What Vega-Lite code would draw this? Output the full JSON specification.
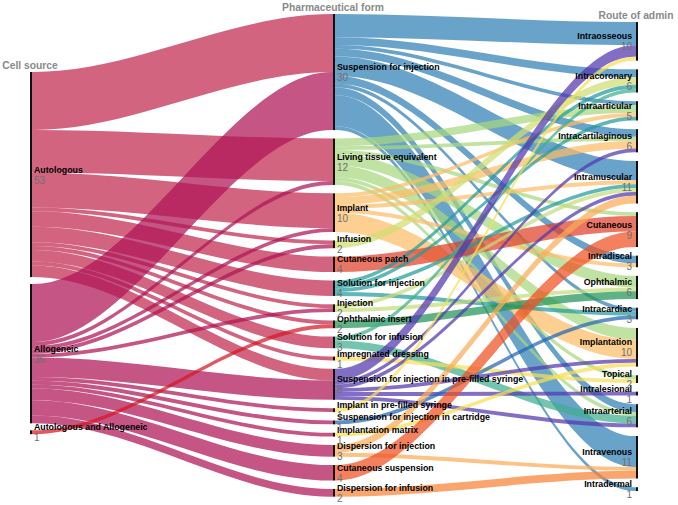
{
  "$schema": "https://vega.github.io/schema/vega-lite/v6.json",
  "width": 678,
  "height": 505,
  "padding": 0,
  "autosize": {"type": "none"},
  "config": {"view": {"stroke": null}, "font": "Liberation Sans"},
  "datasets": {
    "nodes": [
      {"name": "Autologous", "col": 0, "ord": 0, "value": 53},
      {"name": "Allogeneic", "col": 0, "ord": 1, "value": 36},
      {"name": "Autologous and Allogeneic", "col": 0, "ord": 2, "value": 1},
      {"name": "Suspension for injection", "col": 1, "ord": 0, "value": 30},
      {"name": "Living tissue equivalent", "col": 1, "ord": 1, "value": 12},
      {"name": "Implant", "col": 1, "ord": 2, "value": 10},
      {"name": "Infusion", "col": 1, "ord": 3, "value": 2},
      {"name": "Cutaneous patch", "col": 1, "ord": 4, "value": 4},
      {"name": "Solution for injection", "col": 1, "ord": 5, "value": 4},
      {"name": "Injection", "col": 1, "ord": 6, "value": 2},
      {"name": "Ophthalmic insert", "col": 1, "ord": 7, "value": 2},
      {"name": "Solution for infusion", "col": 1, "ord": 8, "value": 3},
      {"name": "Impregnated dressing", "col": 1, "ord": 9, "value": 1},
      {"name": "Suspension for injection in pre-filled syringe", "col": 1, "ord": 10, "value": 8},
      {"name": "Implant in pre-filled syringe", "col": 1, "ord": 11, "value": 1},
      {"name": "Suspension for injection in cartridge", "col": 1, "ord": 12, "value": 1},
      {"name": "Implantation matrix", "col": 1, "ord": 13, "value": 1},
      {"name": "Dispersion for injection", "col": 1, "ord": 14, "value": 3},
      {"name": "Cutaneous suspension", "col": 1, "ord": 15, "value": 4},
      {"name": "Dispersion for infusion", "col": 1, "ord": 16, "value": 2},
      {"name": "Intraosseous", "col": 2, "ord": 0, "value": 10},
      {"name": "Intracoronary", "col": 2, "ord": 1, "value": 6},
      {"name": "Intraarticular", "col": 2, "ord": 2, "value": 5},
      {"name": "Intracartilaginous", "col": 2, "ord": 3, "value": 6},
      {"name": "Intramuscular", "col": 2, "ord": 4, "value": 11},
      {"name": "Cutaneous", "col": 2, "ord": 5, "value": 9},
      {"name": "Intradiscal", "col": 2, "ord": 6, "value": 3},
      {"name": "Ophthalmic", "col": 2, "ord": 7, "value": 6},
      {"name": "Intracardiac", "col": 2, "ord": 8, "value": 3},
      {"name": "Implantation", "col": 2, "ord": 9, "value": 10},
      {"name": "Topical", "col": 2, "ord": 10, "value": 2},
      {"name": "Intralesional", "col": 2, "ord": 11, "value": 1},
      {"name": "Intraarterial", "col": 2, "ord": 12, "value": 6},
      {"name": "Intravenous", "col": 2, "ord": 13, "value": 11},
      {"name": "Intradermal", "col": 2, "ord": 14, "value": 1}
    ],
    "links": [
      {"src": "Autologous", "tgt": "Suspension for injection", "v": 15},
      {"src": "Autologous", "tgt": "Living tissue equivalent", "v": 11},
      {"src": "Autologous", "tgt": "Implant", "v": 9},
      {"src": "Autologous", "tgt": "Infusion", "v": 1},
      {"src": "Autologous", "tgt": "Cutaneous patch", "v": 4},
      {"src": "Autologous", "tgt": "Solution for injection", "v": 4},
      {"src": "Autologous", "tgt": "Injection", "v": 1},
      {"src": "Autologous", "tgt": "Ophthalmic insert", "v": 1},
      {"src": "Autologous", "tgt": "Solution for infusion", "v": 3},
      {"src": "Autologous", "tgt": "Impregnated dressing", "v": 1},
      {"src": "Autologous", "tgt": "Suspension for injection in pre-filled syringe", "v": 3},
      {"src": "Allogeneic", "tgt": "Suspension for injection", "v": 15},
      {"src": "Allogeneic", "tgt": "Living tissue equivalent", "v": 1},
      {"src": "Allogeneic", "tgt": "Implant", "v": 1},
      {"src": "Allogeneic", "tgt": "Infusion", "v": 1},
      {"src": "Allogeneic", "tgt": "Injection", "v": 1},
      {"src": "Allogeneic", "tgt": "Suspension for injection in pre-filled syringe", "v": 5},
      {"src": "Allogeneic", "tgt": "Implant in pre-filled syringe", "v": 1},
      {"src": "Allogeneic", "tgt": "Suspension for injection in cartridge", "v": 1},
      {"src": "Allogeneic", "tgt": "Implantation matrix", "v": 1},
      {"src": "Allogeneic", "tgt": "Dispersion for injection", "v": 3},
      {"src": "Allogeneic", "tgt": "Cutaneous suspension", "v": 4},
      {"src": "Allogeneic", "tgt": "Dispersion for infusion", "v": 2},
      {"src": "Autologous and Allogeneic", "tgt": "Ophthalmic insert", "v": 1},
      {"src": "Suspension for injection", "tgt": "Intraosseous", "v": 6},
      {"src": "Suspension for injection", "tgt": "Intracoronary", "v": 2},
      {"src": "Suspension for injection", "tgt": "Intraarticular", "v": 1},
      {"src": "Suspension for injection", "tgt": "Intracartilaginous", "v": 2},
      {"src": "Suspension for injection", "tgt": "Intramuscular", "v": 5},
      {"src": "Suspension for injection", "tgt": "Intradiscal", "v": 2},
      {"src": "Suspension for injection", "tgt": "Intracardiac", "v": 1},
      {"src": "Suspension for injection", "tgt": "Intraarterial", "v": 2},
      {"src": "Suspension for injection", "tgt": "Intravenous", "v": 8},
      {"src": "Suspension for injection", "tgt": "Intradermal", "v": 1},
      {"src": "Living tissue equivalent", "tgt": "Intraarticular", "v": 2},
      {"src": "Living tissue equivalent", "tgt": "Intracartilaginous", "v": 1},
      {"src": "Living tissue equivalent", "tgt": "Cutaneous", "v": 1},
      {"src": "Living tissue equivalent", "tgt": "Ophthalmic", "v": 3},
      {"src": "Living tissue equivalent", "tgt": "Implantation", "v": 3},
      {"src": "Living tissue equivalent", "tgt": "Topical", "v": 1},
      {"src": "Living tissue equivalent", "tgt": "Intraarterial", "v": 1},
      {"src": "Implant", "tgt": "Intraarticular", "v": 1},
      {"src": "Implant", "tgt": "Intracartilaginous", "v": 2},
      {"src": "Implant", "tgt": "Intramuscular", "v": 1},
      {"src": "Implant", "tgt": "Intradiscal", "v": 1},
      {"src": "Implant", "tgt": "Implantation", "v": 5},
      {"src": "Infusion", "tgt": "Intracoronary", "v": 2},
      {"src": "Cutaneous patch", "tgt": "Cutaneous", "v": 4},
      {"src": "Solution for injection", "tgt": "Intracoronary", "v": 1},
      {"src": "Solution for injection", "tgt": "Intraarticular", "v": 1},
      {"src": "Solution for injection", "tgt": "Intramuscular", "v": 1},
      {"src": "Solution for injection", "tgt": "Intracardiac", "v": 1},
      {"src": "Injection", "tgt": "Intramuscular", "v": 1},
      {"src": "Injection", "tgt": "Ophthalmic", "v": 1},
      {"src": "Ophthalmic insert", "tgt": "Ophthalmic", "v": 2},
      {"src": "Solution for infusion", "tgt": "Intracoronary", "v": 1},
      {"src": "Solution for infusion", "tgt": "Intraarterial", "v": 2},
      {"src": "Impregnated dressing", "tgt": "Topical", "v": 1},
      {"src": "Suspension for injection in pre-filled syringe", "tgt": "Intraosseous", "v": 3},
      {"src": "Suspension for injection in pre-filled syringe", "tgt": "Intracartilaginous", "v": 1},
      {"src": "Suspension for injection in pre-filled syringe", "tgt": "Intramuscular", "v": 1},
      {"src": "Suspension for injection in pre-filled syringe", "tgt": "Implantation", "v": 1},
      {"src": "Suspension for injection in pre-filled syringe", "tgt": "Intralesional", "v": 1},
      {"src": "Suspension for injection in pre-filled syringe", "tgt": "Intraarterial", "v": 1},
      {"src": "Implant in pre-filled syringe", "tgt": "Intraosseous", "v": 1},
      {"src": "Suspension for injection in cartridge", "tgt": "Intracardiac", "v": 1},
      {"src": "Implantation matrix", "tgt": "Implantation", "v": 1},
      {"src": "Dispersion for injection", "tgt": "Intramuscular", "v": 2},
      {"src": "Dispersion for injection", "tgt": "Intravenous", "v": 1},
      {"src": "Cutaneous suspension", "tgt": "Cutaneous", "v": 4},
      {"src": "Dispersion for infusion", "tgt": "Intravenous", "v": 2}
    ],
    "columns": [
      {"col": 0, "title": "Cell source"},
      {"col": 1, "title": "Pharmaceutical form"},
      {"col": 2, "title": "Route of admin"}
    ]
  },
  "layer": [
    {
      "data": {"name": "links"},
      "transform": [
        {"lookup": "src", "from": {"data": {"name": "nodes"}, "key": "name", "fields": ["ord", "col"]}, "as": ["so", "sc"]},
        {"lookup": "tgt", "from": {"data": {"name": "nodes"}, "key": "name", "fields": ["ord"]}, "as": ["to"]},
        {"window": [{"op": "sum", "field": "v", "as": "cs"}], "groupby": ["sc"], "sort": [{"field": "so"}, {"field": "to"}], "frame": [null, 0]},
        {"window": [{"op": "sum", "field": "v", "as": "ct"}], "groupby": ["sc"], "sort": [{"field": "to"}, {"field": "so"}], "frame": [null, 0]},
        {"calculate": "(datum.sc == 0 ? 18.6 : 3.62) + datum.cs + datum.so * (datum.sc == 0 ? 1.8 : 2.17)", "as": "sb"},
        {"calculate": "(datum.sc == 0 ? 3.62 : 5.68) + datum.ct + datum.to * (datum.sc == 0 ? 2.17 : 2.23)", "as": "tb"},
        {"calculate": "[0, 1, 2, 3]", "as": "k"},
        {"flatten": ["k"]},
        {"calculate": "datum.k == 0 ? datum.sc + 0.0066 : datum.k == 1 ? datum.sc + 0.012 : datum.k == 2 ? datum.sc + 0.994 : datum.sc + 1", "as": "x"},
        {"calculate": "datum.k < 2 ? datum.sb : datum.tb", "as": "yb"},
        {"calculate": "datum.yb - datum.v", "as": "yt"},
        {"calculate": "datum.src + ' > ' + datum.tgt", "as": "id"}
      ],
      "mark": {"type": "area", "interpolate": "monotone", "opacity": 0.72},
      "encoding": {
        "x": {"field": "x", "type": "quantitative", "scale": {"domain": [-0.099, 2.1386]}, "axis": null},
        "y": {"field": "yt", "type": "quantitative", "stack": null, "scale": {"domain": [0, 130.5], "reverse": true}, "axis": null},
        "y2": {"field": "yb"},
        "detail": {"field": "id"},
        "color": {
          "field": "src",
          "type": "nominal",
          "legend": null,
          "scale": {
            "domain": ["Autologous", "Allogeneic", "Autologous and Allogeneic", "Suspension for injection", "Living tissue equivalent", "Implant", "Infusion", "Cutaneous patch", "Solution for injection", "Injection", "Ophthalmic insert", "Solution for infusion", "Impregnated dressing", "Suspension for injection in pre-filled syringe", "Implant in pre-filled syringe", "Suspension for injection in cartridge", "Implantation matrix", "Dispersion for injection", "Cutaneous suspension", "Dispersion for infusion"],
            "range": ["#c0284f", "#ad1455", "#d71623", "#3080b6", "#a8d780", "#fcbc66", "#d0de73", "#e0402a", "#239b9b", "#c5dd7a", "#239458", "#3eaf8e", "#f8de58", "#5237af", "#f8de58", "#2266b0", "#f8de58", "#fbac58", "#ee5121", "#f88236"]
          }
        }
      }
    },
    {
      "data": {"name": "nodes"},
      "transform": [
        {"window": [{"op": "sum", "field": "value", "as": "cum"}], "groupby": ["col"], "sort": [{"field": "ord"}], "frame": [null, 0]},
        {"calculate": "(datum.col == 0 ? 18.6 : datum.col == 1 ? 3.62 : 5.68) + datum.cum - datum.value + datum.ord * (datum.col == 0 ? 1.8 : datum.col == 1 ? 2.17 : 2.23)", "as": "top"},
        {"calculate": "datum.top + datum.value", "as": "bot"},
        {"calculate": "datum.col + 0.0066", "as": "xr"}
      ],
      "mark": {"type": "rect", "color": "#111"},
      "encoding": {
        "x": {"field": "col", "type": "quantitative", "scale": {"domain": [-0.099, 2.1386]}, "axis": null},
        "x2": {"field": "xr"},
        "y": {"field": "top", "type": "quantitative", "scale": {"domain": [0, 130.5], "reverse": true}, "axis": null},
        "y2": {"field": "bot"}
      }
    },
    {
      "data": {"name": "nodes"},
      "transform": [
        {"window": [{"op": "sum", "field": "value", "as": "cum"}], "groupby": ["col"], "sort": [{"field": "ord"}], "frame": [null, 0]},
        {"calculate": "(datum.col == 0 ? 18.6 : datum.col == 1 ? 3.62 : 5.68) + datum.cum - datum.value / 2 + datum.ord * (datum.col == 0 ? 1.8 : datum.col == 1 ? 2.17 : 2.23)", "as": "mid"},
        {"calculate": "datum.col == 2 ? datum.col - 0.013 : datum.col + 0.013", "as": "lx"}
      ],
      "layer": [
        {
          "transform": [{"filter": "datum.col < 2"}],
          "layer": [
            {"mark": {"type": "text", "align": "left", "baseline": "middle", "dy": -5, "fontSize": 8.8, "fontWeight": "bold", "color": "#000"}, "encoding": {"text": {"field": "name"}}},
            {"mark": {"type": "text", "align": "left", "baseline": "middle", "dy": 6, "fontSize": 10, "color": "#6f6f6f"}, "encoding": {"text": {"field": "value"}}}
          ]
        },
        {
          "transform": [{"filter": "datum.col == 2"}],
          "layer": [
            {"mark": {"type": "text", "align": "right", "baseline": "middle", "dy": -5, "fontSize": 8.8, "fontWeight": "bold", "color": "#000"}, "encoding": {"text": {"field": "name"}}},
            {"mark": {"type": "text", "align": "right", "baseline": "middle", "dy": 6, "fontSize": 10, "color": "#6f6f6f"}, "encoding": {"text": {"field": "value"}}}
          ]
        }
      ],
      "encoding": {
        "x": {"field": "lx", "type": "quantitative", "scale": {"domain": [-0.099, 2.1386]}, "axis": null},
        "y": {"field": "mid", "type": "quantitative", "scale": {"domain": [0, 130.5], "reverse": true}, "axis": null}
      }
    },
    {
      "data": {"name": "columns"},
      "transform": [
        {"calculate": "(datum.col == 0 ? 18.6 : datum.col == 1 ? 3.62 : 5.68) - 0.2", "as": "ty"}
      ],
      "mark": {"type": "text", "align": "center", "baseline": "bottom", "fontSize": 10.3, "fontWeight": "bold", "color": "#8a8a8a"},
      "encoding": {
        "x": {"field": "col", "type": "quantitative", "scale": {"domain": [-0.099, 2.1386]}, "axis": null},
        "y": {"field": "ty", "type": "quantitative", "scale": {"domain": [0, 130.5], "reverse": true}, "axis": null},
        "text": {"field": "title"}
      }
    }
  ]
}
